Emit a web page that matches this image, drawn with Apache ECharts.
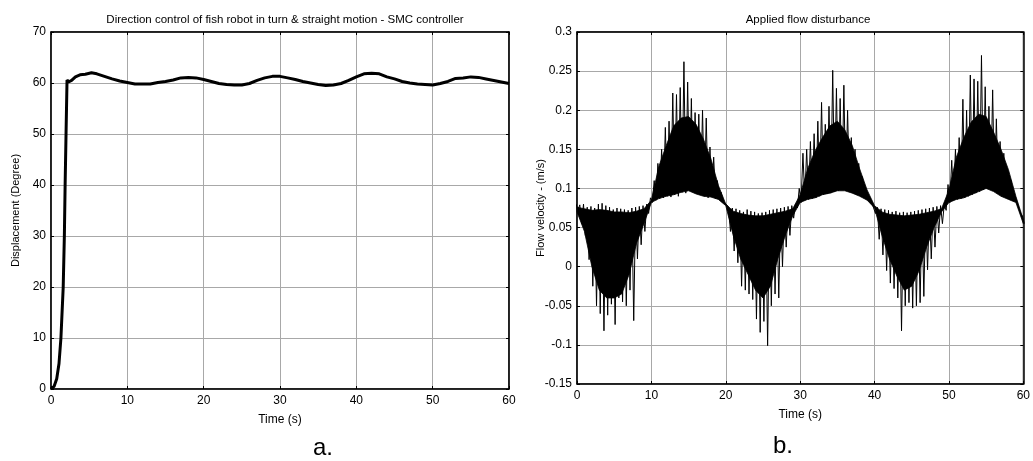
<!DOCTYPE html>
<html><head><meta charset="utf-8">
<script src="https://cdn.jsdelivr.net/npm/echarts@6/dist/echarts.min.js"></script>
<style>html,body{margin:0;padding:0;background:#fff}#c{width:1033px;height:461px}</style>
</head><body><div id="c"></div><script>
// ---- Data: panel a (direction control) ----
const leftTime = [0,0.4,0.75,1.05,1.3,1.6,1.75,1.85,1.97,2.1,2.3,2.7,3.2,3.8,4.5,5.3,6,7,8,9,
  10,11,12,13,14,15,16,17,18,19,20,21,22,23,24,25,26,27,28,29,30,31,32,33,34,35,36,37,38,39,
  40,41,42,43,44,45,46,47,48,49,50,51,52,53,54,55,56,57,58,59,60];
const leftDeg = [0,0.5,2,5,10,20,30,40,50,60.6,60.2,60.5,61.2,61.6,61.7,62.0,61.8,61.3,60.8,60.4,
  60.1,59.8,59.8,59.8,60.1,60.3,60.6,61.0,61.1,61.0,60.7,60.3,59.9,59.7,59.6,59.6,59.9,60.5,61.0,61.3,
  61.3,61.0,60.7,60.3,60.0,59.7,59.5,59.6,59.9,60.5,61.2,61.8,61.9,61.8,61.2,60.8,60.3,60.0,59.8,59.7,
  59.6,59.9,60.3,60.9,61.0,61.2,61.1,60.8,60.5,60.2,59.9];

// ---- Data: panel b (applied flow disturbance) ----
// spike tips (upper / lower excursions) every 0.5 s
const flowTime = [
  0,0.5,1,1.5,2,2.5,3,3.5,4,4.5,
  5,5.5,6,6.5,7,7.5,8,8.5,9,9.5,
  10,10.5,11,11.5,12,12.5,13,13.5,14,14.5,
  15,15.5,16,16.5,17,17.5,18,18.5,19,19.5,
  20,20.5,21,21.5,22,22.5,23,23.5,24,24.5,
  25,25.5,26,26.5,27,27.5,28,28.5,29,29.5,
  30,30.5,31,31.5,32,32.5,33,33.5,34,34.5,
  35,35.5,36,36.5,37,37.5,38,38.5,39,39.5,
  40,40.5,41,41.5,42,42.5,43,43.5,44,44.5,
  45,45.5,46,46.5,47,47.5,48,48.5,49,49.5,
  50,50.5,51,51.5,52,52.5,53,53.5,54,54.5,
  55,55.5,56,56.5,57,57.5,58,58.5,59,59.5,
  60];
const flowUpper = [
  0.080,0.079,0.080,0.076,0.077,0.075,0.080,0.081,0.078,0.076,
  0.073,0.075,0.074,0.073,0.072,0.075,0.076,0.077,0.078,0.080,
  0.088,0.110,0.132,0.150,0.178,0.186,0.222,0.220,0.229,0.262,
  0.236,0.215,0.197,0.195,0.200,0.190,0.153,0.140,0.110,0.095,
  0.085,0.076,0.075,0.074,0.072,0.070,0.073,0.071,0.070,0.068,
  0.069,0.070,0.072,0.073,0.074,0.075,0.076,0.077,0.078,0.080,
  0.100,0.145,0.150,0.160,0.170,0.186,0.210,0.182,0.205,0.251,
  0.228,0.215,0.232,0.200,0.165,0.150,0.132,0.115,0.098,0.088,
  0.080,0.076,0.074,0.073,0.072,0.070,0.071,0.069,0.070,0.069,
  0.070,0.071,0.072,0.073,0.074,0.075,0.076,0.077,0.078,0.080,
  0.105,0.136,0.150,0.165,0.214,0.200,0.245,0.240,0.237,0.270,
  0.230,0.205,0.226,0.189,0.160,0.145,0.125,0.110,0.090,0.080,
  0.065];
const flowLower = [
  0.072,0.055,0.040,0.009,-0.025,-0.050,-0.060,-0.082,-0.062,-0.048,
  -0.074,-0.040,-0.045,-0.050,-0.030,-0.069,0.010,0.028,0.045,0.068,
  0.082,0.085,0.087,0.088,0.090,0.089,0.092,0.090,0.095,0.094,
  0.097,0.096,0.093,0.092,0.090,0.088,0.090,0.087,0.086,0.084,
  0.079,0.045,0.020,0.005,-0.025,-0.030,-0.035,-0.042,-0.067,-0.084,
  -0.070,-0.101,-0.050,-0.035,-0.040,0.000,0.025,0.040,0.062,0.075,
  0.082,0.085,0.086,0.087,0.088,0.090,0.092,0.093,0.094,0.096,
  0.097,0.098,0.097,0.096,0.094,0.092,0.090,0.088,0.085,0.082,
  0.068,0.035,0.015,-0.005,-0.021,-0.028,-0.040,-0.082,-0.050,-0.046,
  -0.053,-0.050,-0.046,-0.038,-0.004,0.010,0.025,0.043,0.055,0.072,
  0.082,0.085,0.086,0.087,0.088,0.090,0.092,0.094,0.096,0.098,
  0.100,0.099,0.096,0.093,0.090,0.088,0.086,0.085,0.082,0.068,
  0.055];
// dense oscillation core (upper / lower edge of the solid black band) every 1 s
const coreTime = [
  0,1,2,3,4,5,6,7,8,9,
  10,11,12,13,14,15,16,17,18,19,
  20,21,22,23,24,25,26,27,28,29,
  30,31,32,33,34,35,36,37,38,39,
  40,41,42,43,44,45,46,47,48,49,
  50,51,52,53,54,55,56,57,58,59,
  60];
const coreUpper = [
  0.076,0.074,0.072,0.073,0.072,0.070,0.070,0.069,0.071,0.074,
  0.085,0.128,0.155,0.180,0.190,0.192,0.182,0.163,0.138,0.104,
  0.080,0.071,0.068,0.066,0.065,0.065,0.067,0.069,0.071,0.074,
  0.092,0.125,0.148,0.165,0.180,0.186,0.175,0.155,0.125,0.098,
  0.078,0.070,0.067,0.066,0.065,0.066,0.067,0.069,0.071,0.074,
  0.098,0.140,0.165,0.185,0.195,0.192,0.172,0.150,0.124,0.090,
  0.060];
const coreLower = [
  0.070,0.045,0.000,-0.030,-0.040,-0.040,-0.035,-0.010,0.030,0.055,
  0.082,0.087,0.090,0.092,0.095,0.097,0.093,0.090,0.089,0.086,
  0.078,0.040,0.010,-0.010,-0.030,-0.040,-0.025,0.010,0.040,0.065,
  0.082,0.086,0.088,0.092,0.094,0.097,0.097,0.094,0.090,0.085,
  0.075,0.040,0.010,-0.012,-0.030,-0.025,-0.005,0.025,0.050,0.070,
  0.082,0.086,0.088,0.092,0.096,0.100,0.096,0.090,0.086,0.082,
  0.055];

// ---- Axis ticks ----
const timeTicks = [0,10,20,30,40,50,60];
const degTicks = [0,10,20,30,40,50,60,70];
const flowTicks = [-0.15,-0.1,-0.05,0,0.05,0.1,0.15,0.2,0.25,0.3];

const FONT = 'Liberation Sans';
const leftData = leftTime.map((t,i)=>[t,leftDeg[i]]);
const flowData = [];
flowTime.forEach((t,i)=>{ flowData.push([t-0.125, flowUpper[i]]); flowData.push([t+0.125, flowLower[i]]); });

function xAx(grid, ticks, showName, top){
  return {gridIndex:grid, type:'value', position: top?'top':'bottom',
    min:ticks[0], max:ticks[ticks.length-1], interval:ticks[1]-ticks[0],
    axisLine:{show:true,onZero:false,lineStyle:{color:'#000',width:1.5}},
    axisTick:{show:true,inside:true,length:3,lineStyle:{color:'#000'}},
    axisLabel:{show:!top,color:'#000',fontSize:12,fontFamily:FONT,margin:6},
    splitLine:{show:!top,lineStyle:{color:'#a8a8a8',width:1}},
    name: (!top && showName)?'Time (s)':'', nameLocation:'middle', nameGap:25, nameMoveOverlap:false,
    nameTextStyle:{color:'#000',fontSize:12,fontFamily:FONT}};
}
function yAx(grid, ticks, name, gap, right, fmt){
  return {gridIndex:grid, type:'value', position: right?'right':'left',
    min:ticks[0], max:ticks[ticks.length-1], interval:+(ticks[1]-ticks[0]).toFixed(4),
    axisLine:{show:true,onZero:false,lineStyle:{color:'#000',width:1.5}},
    axisTick:{show:true,inside:true,length:3,lineStyle:{color:'#000'}},
    axisLabel:{show:!right,color:'#000',fontSize:12,fontFamily:FONT,margin:5,formatter:fmt},
    splitLine:{show:!right,lineStyle:{color:'#a8a8a8',width:1}},
    name: right?'':name, nameLocation:'middle', nameGap:gap, nameMoveOverlap:false,
    nameTextStyle:{color:'#000',fontSize:11,fontFamily:FONT}};
}
const flowFmt = v => String(parseFloat(v.toFixed(2)));

// solid band of the dense oscillation, drawn as one polygon through the axes' scales
function renderBand(params, api){
  if (params.dataIndex !== 0) return null;
  const pts = [];
  coreTime.forEach((t,i)=>pts.push(api.coord([t, coreUpper[i]])));
  for (let i = coreTime.length-1; i >= 0; i--) pts.push(api.coord([coreTime[i], coreLower[i]]));
  return {type:'polygon', shape:{points:pts}, style:{fill:'#000', stroke:'#000', lineWidth:0.8}};
}

const option = {
  animation:false,
  backgroundColor:'#fff',
  title:[
    {text:'Direction control of fish robot in turn & straight motion - SMC controller', left:280, top:9, textAlign:'center',
     textStyle:{fontSize:11.5,fontWeight:'normal',color:'#000',fontFamily:FONT}},
    {text:'Applied flow disturbance', left:803, top:9, textAlign:'center',
     textStyle:{fontSize:11.5,fontWeight:'normal',color:'#000',fontFamily:FONT}}
  ],
  grid:[
    {left:51, top:32, width:458, height:357, show:true, borderColor:'#000', borderWidth:1},
    {left:577, top:32, width:452, height:352, show:true, borderColor:'#000', borderWidth:1}
  ],
  xAxis:[ xAx(0,timeTicks,true,false), xAx(0,timeTicks,false,true), xAx(1,timeTicks,true,false), xAx(1,timeTicks,false,true) ],
  yAxis:[ yAx(0,degTicks,'Displacement (Degree)',30,false), yAx(0,degTicks,'',0,true),
          yAx(1,flowTicks,'Flow velocity - (m/s)',31,false,flowFmt), yAx(1,flowTicks,'',0,true) ],
  series:[
    {type:'line', xAxisIndex:0, yAxisIndex:0, data:leftData, showSymbol:false, symbol:'none',
     lineStyle:{color:'#000',width:3}, z:5},
    {type:'custom', xAxisIndex:2, yAxisIndex:2, data:[[coreTime[0], coreUpper[0]]], renderItem:renderBand, z:3, silent:true},
    {type:'line', xAxisIndex:2, yAxisIndex:2, data:flowData, showSymbol:false, symbol:'none',
     lineStyle:{color:'#000',width:1}, z:5, clip:true}
  ],
  graphic:[
    {type:'text', x:323, y:448, style:{text:'a.', font:'24px "Liberation Sans"', fill:'#000', textAlign:'center', textVerticalAlign:'middle'}},
    {type:'text', x:783, y:446, style:{text:'b.', font:'24px "Liberation Sans"', fill:'#000', textAlign:'center', textVerticalAlign:'middle'}}
  ]
};
const chart = echarts.init(document.getElementById('c'), null, {renderer:'canvas'});
chart.setOption(option);
</script></body></html>
